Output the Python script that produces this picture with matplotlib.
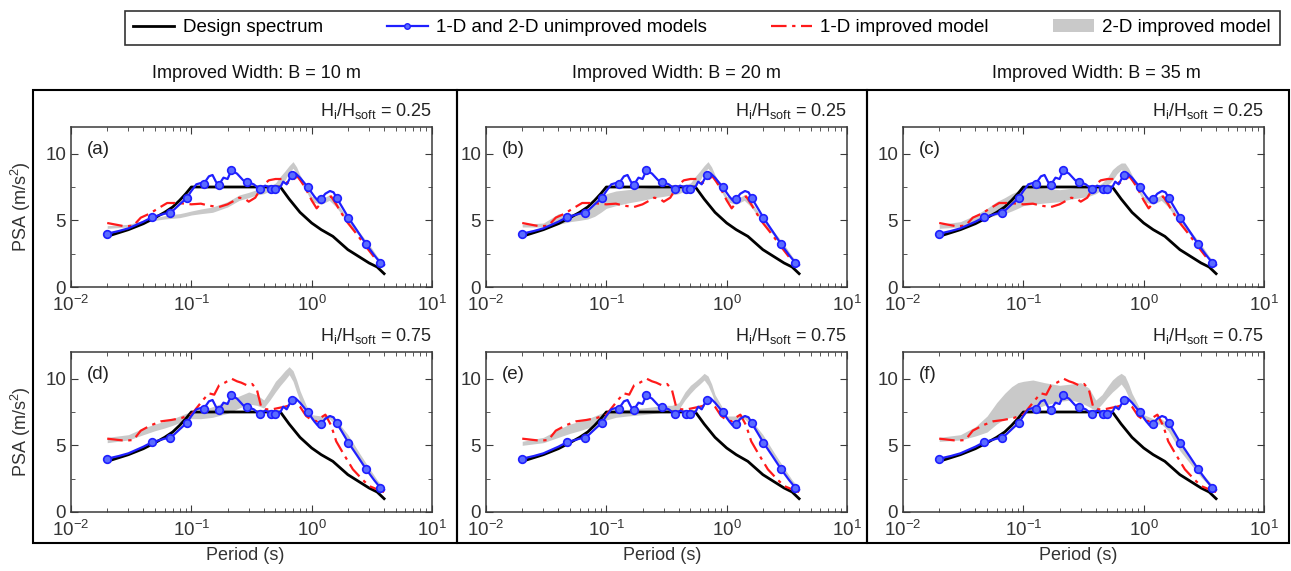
import numpy as np
import matplotlib
matplotlib.use("Agg")
import matplotlib.pyplot as plt
from matplotlib.lines import Line2D
from matplotlib.patches import Patch, Rectangle
from matplotlib.ticker import MultipleLocator, LogLocator, NullFormatter

plt.rcParams['font.family'] = ['Liberation Sans', 'DejaVu Sans']
plt.rcParams['mathtext.default'] = 'regular'

# design spectrum
T_des = [0.02, 0.03, 0.04, 0.05, 0.06, 0.07, 0.08, 0.09, 0.1, 0.55, 0.65, 0.8, 1.0, 1.2, 1.5, 2.0, 2.5, 3.0, 3.5, 4.0]
psa_des = [3.8, 4.3, 4.75, 5.2, 5.6, 6.0, 6.5, 7.0, 7.5, 7.5, 6.6, 5.6, 4.8, 4.3, 3.8, 2.8, 2.25, 1.8, 1.5, 1.0]

# 1-D and 2-D unimproved models
T_unimp = [0.02, 0.025, 0.03, 0.04, 0.047, 0.055, 0.06, 0.067, 0.08, 0.092, 0.1, 0.11, 0.12, 0.127, 0.14,
           0.15, 0.16, 0.169, 0.185, 0.2, 0.215, 0.24, 0.27, 0.291, 0.33, 0.371, 0.41, 0.44, 0.46, 0.5, 0.55,
           0.58, 0.62, 0.681, 0.74, 0.8, 0.927, 1.05, 1.12, 1.197, 1.3, 1.42, 1.52, 1.61, 2.02, 2.4, 2.84,
           3.3, 3.71, 4.0]
psa_unimp = [4.0, 4.2, 4.4, 4.9, 5.23, 5.4, 5.5, 5.55, 6.2, 6.7, 7.2, 7.7, 7.8, 7.75, 8.3,
             8.4, 7.9, 7.65, 8.2, 8.1, 8.75, 8.5, 8.0, 7.9, 7.7, 7.33, 7.6, 7.5, 7.38, 7.38, 7.5,
             7.9, 7.7, 8.4, 8.5, 8.2, 7.5, 6.8, 6.5, 6.6, 7.0, 7.2, 7.1, 6.7, 5.2, 4.2, 3.2,
             2.4, 1.83, 1.65]
T_marks = [0.02, 0.047, 0.067, 0.092, 0.127, 0.169, 0.215, 0.291, 0.371, 0.46, 0.5, 0.681, 0.927,
           1.197, 1.61, 2.02, 2.84, 3.71]

# 1-D improved model, Hi/Hsoft = 0.25
T_imp1 = [0.02, 0.028, 0.033, 0.038, 0.045, 0.053, 0.063, 0.075, 0.089, 0.1, 0.12, 0.14, 0.17, 0.2, 0.23,
          0.25, 0.28, 0.3, 0.34, 0.39, 0.44, 0.5, 0.57, 0.63, 0.69, 0.76, 0.82, 0.89, 1.0, 1.1, 1.2, 1.3,
          1.45, 1.6, 1.75, 2.0, 2.4, 2.9, 3.4, 4.0]
psa_imp1 = [4.8, 4.55, 4.6, 5.2, 5.5, 5.9, 6.3, 6.3, 6.25, 6.2, 6.25, 6.1, 6.0, 6.2, 6.5,
            6.7, 6.6, 6.4, 6.7, 7.6, 8.0, 8.1, 8.1, 7.8, 8.0, 8.3, 7.9, 7.4, 6.5, 5.9, 6.3, 6.6,
            6.8, 6.2, 5.6, 4.8, 3.9, 2.9, 2.1, 1.6]

# 1-D improved model, Hi/Hsoft = 0.75
T_imp2 = [0.02, 0.028, 0.033, 0.038, 0.046, 0.056, 0.068, 0.083, 0.1, 0.113, 0.125, 0.14, 0.155, 0.17,
          0.19, 0.216, 0.24, 0.26, 0.29, 0.32, 0.35, 0.38, 0.42, 0.47, 0.53, 0.6, 0.66, 0.72, 0.8, 0.9,
          1.0, 1.1, 1.2, 1.3, 1.45, 1.6, 1.8, 2.2, 2.6, 3.0, 3.5, 4.0]
psa_imp2 = [5.5, 5.35, 5.4, 6.1, 6.5, 6.8, 6.9, 7.05, 7.3, 7.9, 8.4, 8.9, 8.8, 9.5,
            9.7, 10.0, 9.8, 9.7, 9.5, 9.6, 9.2, 7.9, 7.7, 7.7, 7.8, 7.9, 8.0, 8.3, 7.9, 7.2,
            6.9, 6.8, 7.1, 7.3, 6.5, 5.3, 4.5, 3.2, 2.5, 1.95, 1.7, 1.5]

# 2-D improved model envelopes (lower / upper)
T_gray = [0.02, 0.03, 0.04, 0.05, 0.06, 0.07, 0.08, 0.09, 0.1, 0.12, 0.15, 0.2, 0.25, 0.3, 0.35, 0.4,
          0.45, 0.5, 0.55, 0.6, 0.65, 0.7, 0.75, 0.8, 0.9, 1.0, 1.2, 1.4, 1.6, 2.0, 2.5, 3.0, 3.5, 4.0]
lo_a = [4.4, 4.5, 4.8, 5.0, 5.1, 5.15, 5.2, 5.3, 5.4, 5.5, 5.6, 6.0, 6.5, 6.7, 6.9, 7.0,
        7.2, 7.4, 7.7, 8.0, 8.6, 8.9, 8.5, 7.9, 7.2, 6.4, 6.2, 6.5, 6.0, 4.8, 3.8, 2.9, 2.1, 1.6]
hi_a = [4.6, 4.7, 5.0, 5.2, 5.35, 5.45, 5.5, 5.6, 5.7, 5.85, 6.0, 6.4, 6.9, 7.1, 7.3, 7.4,
        7.6, 7.8, 8.3, 8.7, 9.1, 9.4, 9.0, 8.4, 7.6, 6.8, 6.6, 6.9, 6.4, 5.1, 4.1, 3.2, 2.3, 1.8]
lo_b = [4.5, 4.5, 4.7, 4.9, 5.0, 5.1, 5.3, 5.6, 5.9, 6.1, 6.3, 6.5, 6.7, 6.8, 6.9, 7.0,
        7.2, 7.4, 7.7, 8.0, 8.6, 8.9, 8.5, 7.9, 7.2, 6.4, 6.2, 6.5, 6.0, 4.8, 3.8, 2.9, 2.1, 1.6]
hi_b = [4.7, 4.8, 5.5, 5.5, 5.6, 5.8, 6.2, 6.7, 7.0, 7.2, 7.3, 7.4, 7.5, 7.5, 7.5, 7.5,
        7.7, 7.8, 8.3, 8.7, 9.1, 9.4, 9.0, 8.4, 7.6, 6.8, 6.6, 6.9, 6.4, 5.1, 4.1, 3.2, 2.3, 1.8]
lo_c = [4.4, 4.5, 4.9, 5.2, 5.4, 5.5, 5.7, 5.9, 6.1, 6.2, 6.3, 6.4, 6.6, 6.7, 6.8, 7.0,
        7.3, 7.6, 8.0, 8.5, 8.8, 8.6, 8.3, 7.9, 7.2, 6.4, 6.2, 6.5, 6.0, 4.8, 3.8, 2.9, 2.1, 1.6]
hi_c = [4.7, 4.9, 5.4, 5.9, 6.4, 6.7, 7.0, 7.2, 7.4, 7.5, 7.4, 7.3, 7.4, 7.5, 7.5, 7.5,
        7.8, 8.2, 8.8, 9.1, 9.3, 9.3, 8.9, 8.4, 7.6, 6.8, 6.6, 6.9, 6.4, 5.1, 4.1, 3.2, 2.3, 1.8]
lo_d = [5.2, 5.4, 5.8, 6.1, 6.3, 6.5, 6.7, 6.9, 7.0, 7.0, 7.1, 7.4, 7.8, 8.1, 8.0, 7.8,
        8.4, 9.0, 9.5, 9.9, 10.3, 9.8, 9.0, 8.3, 7.6, 6.9, 6.9, 7.0, 6.5, 5.3, 4.0, 3.0, 2.2, 1.6]
hi_d = [5.6, 5.8, 6.3, 6.6, 6.8, 7.0, 7.2, 7.4, 7.5, 7.6, 7.9, 8.3, 8.7, 9.0, 8.8, 8.4,
        9.1, 9.8, 10.2, 10.6, 10.9, 10.6, 9.9, 9.1, 8.0, 7.3, 7.2, 7.3, 6.9, 5.8, 4.4, 3.3, 2.4, 1.8]
lo_e = [5.0, 5.2, 5.6, 5.9, 6.1, 6.3, 6.5, 6.7, 6.9, 7.1, 7.2, 7.3, 7.4, 7.5, 7.6, 7.7,
        8.4, 8.9, 9.3, 9.6, 9.9, 9.5, 8.9, 8.2, 7.6, 6.9, 6.9, 7.0, 6.5, 5.3, 4.0, 3.0, 2.2, 1.6]
hi_e = [5.3, 5.6, 6.2, 6.6, 6.8, 7.0, 7.2, 7.4, 7.5, 7.6, 7.7, 7.8, 7.9, 8.0, 8.0, 8.2,
        9.0, 9.5, 9.8, 10.1, 10.4, 10.2, 9.6, 8.8, 8.0, 7.2, 7.2, 7.3, 6.9, 5.8, 4.4, 3.3, 2.4, 1.8]
lo_f = [5.3, 5.4, 5.7, 6.0, 6.6, 7.0, 7.1, 7.2, 7.4, 7.7, 8.0, 8.3, 8.4, 8.2, 7.9, 7.6,
        8.1, 8.6, 9.0, 9.3, 9.6, 9.2, 8.6, 8.1, 7.5, 6.9, 6.6, 6.6, 6.1, 4.6, 3.5, 2.6, 2.0, 1.6]
hi_f = [5.6, 5.8, 6.4, 7.2, 8.2, 8.9, 9.4, 9.7, 9.8, 9.9, 9.7, 9.5, 9.6, 9.7, 9.3, 8.4,
        8.8, 9.4, 9.9, 10.2, 10.4, 10.2, 9.6, 8.9, 8.0, 7.3, 7.0, 7.0, 6.6, 5.2, 4.0, 3.0, 2.3, 1.8]

panel_letters = ['a', 'b', 'c', 'd', 'e', 'f']
widths = [10, 20, 35]
ratios = ['0.25', '0.75']
gray_lo = [lo_a, lo_b, lo_c, lo_d, lo_e, lo_f]
gray_hi = [hi_a, hi_b, hi_c, hi_d, hi_e, hi_f]
imp_T = [T_imp1, T_imp2]
imp_psa = [psa_imp1, psa_imp2]

W, H = 1291, 571
fig = plt.figure(figsize=(W / 100, H / 100), dpi=100)

ax_left = [71, 486, 903]
ax_top = [127, 352]
ax_w, ax_h = 361, 160

blue_c = '#1f1fff'
red_c = '#ff1a1a'
gray_c = '#c9c9c9'
frame_c = '#3a3a3a'
mark_idx = list(np.where(np.isin(T_unimp, T_marks))[0])

for r in range(2):
    for c in range(3):
        k = r * 3 + c
        ax = fig.add_axes([ax_left[c] / W, 1 - (ax_top[r] + ax_h) / H, ax_w / W, ax_h / H])
        ax.fill_between(T_gray, gray_lo[k], gray_hi[k], color=gray_c, lw=0, zorder=1)
        ax.plot(T_des, psa_des, color='black', lw=2, zorder=3)
        ax.plot(imp_T[r], imp_psa[r], color=red_c, lw=1.6, ls=(0, (7, 2.5, 1.5, 2.5)), zorder=4)
        ax.plot(T_unimp, psa_unimp, color=blue_c, lw=1.6, marker='o', markevery=mark_idx,
                ms=5.5, mfc='#5a6cff', mec=blue_c, mew=1.2, zorder=5)
        ax.set_xscale('log')
        ax.set_xlim(1e-2, 1e1)
        ax.set_ylim(0, 12)
        ax.set_yticks([0, 5, 10])
        ax.yaxis.set_minor_locator(MultipleLocator(2.5))
        ax.xaxis.set_major_locator(LogLocator(base=10, numticks=10))
        ax.xaxis.set_minor_locator(LogLocator(base=10, subs=np.arange(2, 10), numticks=10))
        ax.xaxis.set_minor_formatter(NullFormatter())
        ax.tick_params(which='both', direction='in', top=True, right=True, colors=frame_c,
                       labelcolor='#333333', labelsize=13.5)
        ax.tick_params(which='major', length=5)
        ax.tick_params(which='minor', length=3)
        ax.tick_params(axis='x', which='major', pad=6)
        for s in ax.spines.values():
            s.set_color(frame_c)
            s.set_linewidth(1.1)
        ax.text(0.045, 0.83, '(' + panel_letters[k] + ')', transform=ax.transAxes, fontsize=13.5,
                color='#222222')
        ax.text(1.0, 1.04, 'H$_{i}$/H$_{soft}$ = ' + ratios[r], transform=ax.transAxes,
                ha='right', va='bottom', fontsize=13, color='#222222')
        if c == 0:
            ax.set_ylabel('PSA (m/s$^2$)', fontsize=13, color='#333333', labelpad=9)

# column boxes, titles and x labels
box_x = [33, 457, 867, 1289]
title_x = [256, 676, 1096]
for c in range(3):
    x0, x1 = box_x[c], box_x[c + 1]
    fig.add_artist(Rectangle((x0 / W, 1 - 543 / H), (x1 - x0) / W, 453 / H,
                             transform=fig.transFigure, fill=False, ec='black', lw=1.5))
    fig.text(title_x[c] / W, 1 - 73 / H, 'Improved Width: B = %d m' % widths[c],
             ha='center', va='center', fontsize=13, color='#111111')
    fig.text((x0 + x1) / 2 / W, 1 - 556 / H, 'Period (s)', ha='center', va='center',
             fontsize=13, color='#333333')

handles = [Line2D([], [], color='black', lw=2),
           Line2D([], [], color=blue_c, lw=1.6, marker='o', ms=4, mfc='#5a6cff', mec=blue_c),
           Line2D([], [], color=red_c, lw=1.6, ls=(0, (7, 2.5, 1.5, 2.5))),
           Patch(facecolor=gray_c, edgecolor='none')]
labels = ['Design spectrum', '1-D and 2-D unimproved models', '1-D improved model', '2-D improved model']
leg = fig.legend(handles, labels, loc='center', bbox_to_anchor=(702 / W, 1 - 27.5 / H),
                 ncol=4, frameon=True, fancybox=False, edgecolor='black',
                 fontsize=13.5, handlelength=2.2, handletextpad=0.45, columnspacing=3.4,
                 borderpad=0.45, borderaxespad=0)
leg.get_frame().set_linewidth(1.2)

fig.savefig('out.png', dpi=100)
